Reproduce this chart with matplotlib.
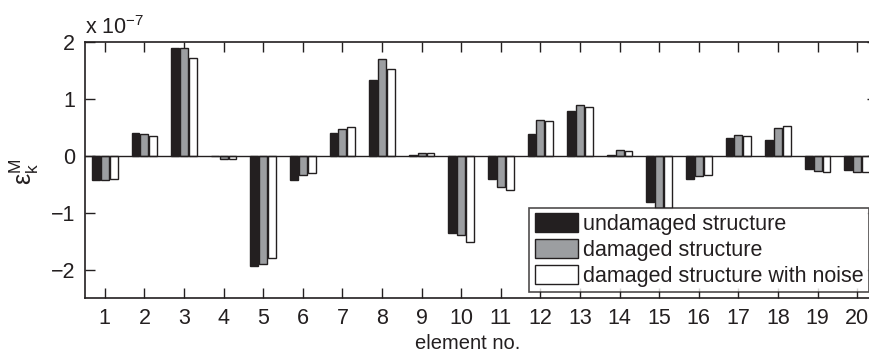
import matplotlib
matplotlib.use("Agg")
import matplotlib.pyplot as plt
import numpy as np

plt.rcParams['font.family'] = ['Liberation Sans', 'DejaVu Sans']
plt.rcParams['mathtext.fontset'] = 'custom'
plt.rcParams['mathtext.rm'] = 'Liberation Sans'
plt.rcParams['mathtext.it'] = 'Liberation Sans:italic'

elements = list(range(1, 21))
undamaged = [-0.42, 0.40, 1.90, -0.01, -1.93, -0.42, 0.40, 1.34, 0.01, -1.36,
             -0.40, 0.39, 0.78, 0.02, -0.81, -0.41, 0.32, 0.28, -0.23, -0.25]
damaged = [-0.42, 0.39, 1.89, -0.06, -1.90, -0.33, 0.47, 1.70, 0.05, -1.40,
           -0.55, 0.63, 0.89, 0.10, -0.91, -0.35, 0.37, 0.48, -0.26, -0.28]
noisy = [-0.40, 0.35, 1.72, -0.06, -1.79, -0.31, 0.50, 1.53, 0.05, -1.52,
         -0.61, 0.61, 0.86, 0.09, -0.91, -0.34, 0.35, 0.52, -0.28, -0.28]
scale = 1e-7
series_labels = ['undamaged structure', 'damaged structure', 'damaged structure with noise']
colors = ['#231f20', '#9c9ea1', '#ffffff']

W, H = 870, 354
fig = plt.figure(figsize=(W / 100, H / 100), dpi=100)
left, right, top, bottom = 85, 877, 42, 298
ax = fig.add_axes([left / W, 1 - bottom / H, (right - left) / W, (bottom - top) / H])

x = np.array(elements, dtype=float)
offs = [-0.225, 0.0, 0.225]
bw = 0.2
for vals, off, c, lab in zip([undamaged, damaged, noisy], offs, colors, series_labels):
    ax.bar(x + off, np.array(vals) * scale, width=bw, color=c, edgecolor='#231f20',
           linewidth=1.0, label=lab, zorder=2)

ax.axhline(0, color='#231f20', linewidth=1.0, zorder=3)
ax.set_xlim(0.5, 20.5)
ax.set_ylim(-2.5e-7, 2e-7)
ax.set_xticks(elements)
ax.set_xticklabels([str(e) for e in elements])
ax.set_yticks([-2e-7, -1e-7, 0, 1e-7, 2e-7])
ax.set_yticklabels(['\u22122', '\u22121', '0', '1', '2'])
FS = 15.5
ax.tick_params(direction='in', length=7, width=1, top=True, right=True,
               labelsize=FS, colors='#231f20', pad=7)
for s in ax.spines.values():
    s.set_linewidth(1.2)
    s.set_color('#231f20')

fig.text(468 / W, 1 - 353 / H, 'element no.', fontsize=14.5, color='#231f20',
         ha='center', va='bottom')
fig.text(24 / W, 1 - 172 / H, '$\\mathrm{\u03b5}_{\\mathrm{k}}^{\\mathrm{M}}$', rotation=90,
         fontsize=18, color='#231f20', ha='center', va='center')
fig.text(85 / W, 1 - 34 / H, r'x 10$^{-7}$', fontsize=FS, color='#231f20',
         ha='left', va='baseline')

leg = ax.legend(loc='lower right', bbox_to_anchor=(869 / W, 1 - 292 / H),
                bbox_transform=fig.transFigure, fontsize=FS, frameon=True,
                fancybox=False, edgecolor='#231f20', handlelength=2.0,
                handleheight=0.95, handletextpad=0.25, labelspacing=0.2,
                borderpad=0.25, borderaxespad=0)
leg.get_frame().set_linewidth(1.2)
for t in leg.get_texts():
    t.set_color('#231f20')

fig.savefig('out.png', dpi=100)
